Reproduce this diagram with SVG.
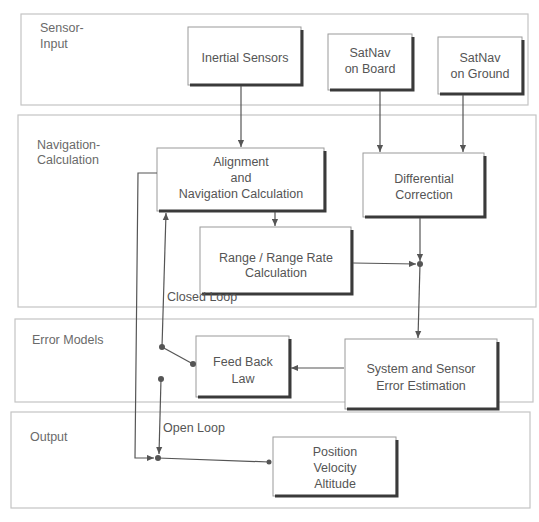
<svg xmlns="http://www.w3.org/2000/svg" width="539" height="522" viewBox="0 0 539 522">
<defs>
<style>
.lane{fill:none;stroke:#c4c4c4;stroke-width:1.2}
.lt{font-family:"Liberation Sans",Arial,sans-serif;font-size:12.5px;fill:#6a6a6a}
.box{fill:#fff;stroke:#9a9a9a;stroke-width:1}
.sh{fill:none;stroke:#3a3a3a;stroke-width:3}
.t{font-family:"Liberation Sans",Arial,sans-serif;font-size:12.5px;fill:#555;text-anchor:middle}
.c{fill:none;stroke:#555;stroke-width:1.2}
.dot{fill:#555}
</style>
<marker id="ah" viewBox="0 0 8 8" refX="8" refY="4" markerWidth="7" markerHeight="7" markerUnits="userSpaceOnUse" orient="auto">
<path d="M0,0.5 L8,4 L0,7.5 Z" fill="#555"/>
</marker>
</defs>
<rect width="539" height="522" fill="#fff"/>
<g id="lanes">
<rect class="lane" x="21" y="14" width="507" height="91"/>
<text class="lt" x="40" y="32">Sensor-</text>
<text class="lt" x="40" y="48">Input</text>
<rect class="lane" x="18" y="115" width="518" height="192"/>
<text class="lt" x="37" y="149">Navigation-</text>
<text class="lt" x="37" y="164">Calculation</text>
<rect class="lane" x="15" y="319" width="518" height="83"/>
<text class="lt" x="32" y="344">Error Models</text>
<rect class="lane" x="11" y="412" width="519" height="96"/>
<text class="lt" x="30" y="441">Output</text>
</g>
<g id="inertial">
<rect class="box" x="188" y="27" width="113" height="58"/>
<polyline class="sh" points="190,85 302,85 302,30"/>
<text class="t" x="245" y="62">Inertial Sensors</text>
</g>
<g id="satnav-board">
<rect class="box" x="328" y="34" width="84" height="56"/>
<polyline class="sh" points="330,90 413,90 413,37"/>
<text class="t" x="370" y="57">SatNav</text>
<text class="t" x="370" y="73">on Board</text>
</g>
<g id="satnav-ground">
<rect class="box" x="438" y="37" width="84" height="57"/>
<polyline class="sh" points="440,94 523,94 523,40"/>
<text class="t" x="480" y="62">SatNav</text>
<text class="t" x="480" y="78">on Ground</text>
</g>
<g id="alignment">
<rect class="box" x="157" y="148" width="167" height="63"/>
<polyline class="sh" points="159,211 325,211 325,151"/>
<text class="t" x="241" y="166">Alignment</text>
<text class="t" x="241" y="182">and</text>
<text class="t" x="241" y="198">Navigation Calculation</text>
</g>
<g id="differential">
<rect class="box" x="363" y="153" width="121" height="64"/>
<polyline class="sh" points="365,217 485,217 485,156"/>
<text class="t" x="424" y="183">Differential</text>
<text class="t" x="424" y="199">Correction</text>
</g>
<g id="range">
<rect class="box" x="200" y="227" width="151" height="67"/>
<polyline class="sh" points="202,294 352,294 352,230"/>
<text class="t" x="276" y="262">Range / Range Rate</text>
<text class="t" x="276" y="277">Calculation</text>
</g>
<g id="feedback">
<rect class="box" x="196" y="336" width="93" height="61"/>
<polyline class="sh" points="198,397 290,397 290,339"/>
<text class="t" x="243" y="366">Feed Back</text>
<text class="t" x="243" y="383">Law</text>
</g>
<g id="estimation">
<rect class="box" x="345" y="339" width="152" height="70"/>
<polyline class="sh" points="347,409 498,409 498,342"/>
<text class="t" x="421" y="373">System and Sensor</text>
<text class="t" x="421" y="390">Error Estimation</text>
</g>
<g id="output">
<rect class="box" x="273" y="437" width="123" height="59"/>
<polyline class="sh" points="275,496 397,496 397,440"/>
<text class="t" x="335" y="456">Position</text>
<text class="t" x="335" y="472">Velocity</text>
<text class="t" x="335" y="488">Altitude</text>
</g>
<g id="connectors">
<line class="c" x1="241" y1="86" x2="241" y2="147" marker-end="url(#ah)"/>
<line class="c" x1="380" y1="91" x2="380" y2="152" marker-end="url(#ah)"/>
<line class="c" x1="463" y1="95" x2="463" y2="152" marker-end="url(#ah)"/>
<line class="c" x1="275" y1="212" x2="275" y2="226" marker-end="url(#ah)"/>
<line class="c" x1="420" y1="218" x2="420" y2="261" marker-end="url(#ah)"/>
<line class="c" x1="353" y1="263" x2="416" y2="264" marker-end="url(#ah)"/>
<circle class="dot" cx="420" cy="264" r="3"/>
<line class="c" x1="420" y1="264" x2="418" y2="338" marker-end="url(#ah)"/>
<line class="c" x1="344" y1="368" x2="291" y2="368" marker-end="url(#ah)"/>
<circle class="dot" cx="193" cy="364" r="3"/>
<line class="c" x1="193" y1="364" x2="162" y2="347"/>
<circle class="dot" cx="162" cy="347" r="3"/>
<line class="c" x1="162" y1="347" x2="166" y2="213" marker-end="url(#ah)"/>
<text class="lt" x="167" y="301" style="fill:#555">Closed Loop</text>
<circle class="dot" cx="161" cy="379" r="3"/>
<line class="c" x1="161" y1="379" x2="159" y2="454" marker-end="url(#ah)"/>
<text class="lt" x="163" y="432" style="fill:#555">Open Loop</text>
<polyline class="c" points="157,173 138,173 135,458 154,458" marker-end="url(#ah)"/>
<circle class="dot" cx="158" cy="458" r="3"/>
<line class="c" x1="158" y1="458" x2="269" y2="462"/>
<circle class="dot" cx="269" cy="462" r="2.5"/>
</g>
</svg>
